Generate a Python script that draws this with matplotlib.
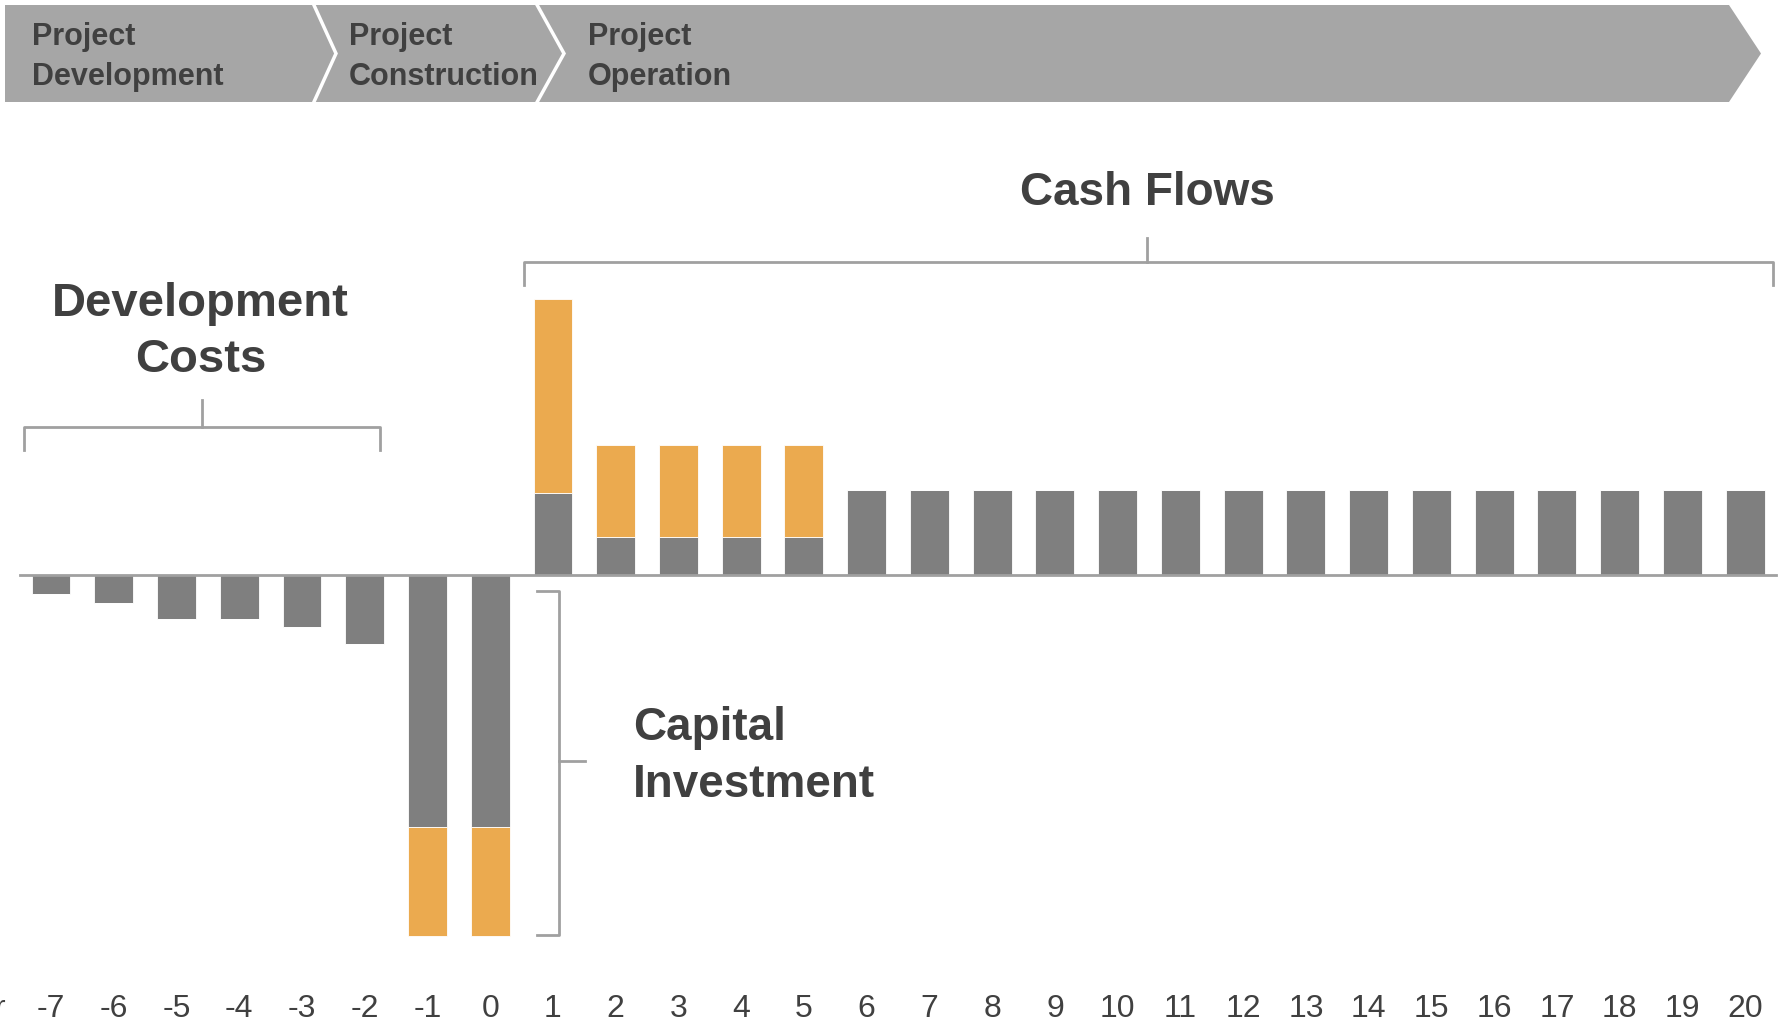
import matplotlib
matplotlib.use("Agg")
import numpy as np
from matplotlib import pyplot as plt
from matplotlib.patches import Polygon

plt.rcParams['font.family'] = ['Liberation Sans', 'DejaVu Sans']

# project years and cash flow pieces (arbitrary units)
years = list(range(-7, 21))
base_vals = [-2.3, -3.3, -5.2, -5.2, -6.1, -8.1, -29.6, -29.6,
             9.6, 4.5, 4.5, 4.5, 4.5] + [10.0] * 15
extra_vals = [0, 0, 0, 0, 0, 0, -12.9, -12.9,
              22.9, 10.8, 10.8, 10.8, 10.8] + [0] * 15
year_labels = [str(y) for y in years]
phase_names = ["Project\nDevelopment", "Project\nConstruction", "Project\nOperation"]

GRAY = '#7f7f7f'
ORANGE = '#ebaa4f'
TXT = '#404040'
LINE = '#a0a0a0'

W, H = 1779, 1024
fig = plt.figure(figsize=(W / 100, H / 100), dpi=100)

# main chart axes spanning the figure
ax = fig.add_axes([0, 0, 1, 1])
ax.set_xlim(-7.813, 20.54)
ax.set_ylim(-52.8, 67.6)
ax.axis('off')

x = np.array(years)
ax.bar(x, base_vals, width=0.62, color=GRAY, edgecolor='white', linewidth=0.6, zorder=2)
ax.bar(x, extra_vals, width=0.62, bottom=base_vals, color=ORANGE,
       edgecolor='white', linewidth=0.6, zorder=2)
ax.plot([-7.49, 20.5], [0, 0], color=LINE, lw=2, zorder=3)

for xi, lab in zip(years, year_labels):
    ax.text(xi, -51.0, lab, ha='center', va='center', fontsize=23, color=TXT)
ax.text(-7.72, -51.0, "Year", ha='right', va='center', fontsize=23, color=TXT)

# brackets
blw = 2
ax.plot([-7.43, -7.43, -1.76, -1.76], [14.7, 17.4, 17.4, 14.7], color=LINE, lw=blw)
ax.plot([-4.6, -4.6], [17.4, 20.6], color=LINE, lw=blw)
ax.plot([0.54, 0.54, 20.45, 20.45], [34.1, 36.8, 36.8, 34.1], color=LINE, lw=blw)
ax.plot([10.47, 10.47], [36.8, 39.6], color=LINE, lw=blw)
ax.plot([0.75, 1.1, 1.1, 0.75], [-1.9, -1.9, -42.3, -42.3], color=LINE, lw=blw)
ax.plot([1.1, 1.51], [-21.9, -21.9], color=LINE, lw=blw)

ax.text(-4.62, 28.6, "Development\nCosts", ha='center', va='center', fontsize=34,
        fontweight='bold', color=TXT, linespacing=1.36)
ax.text(10.47, 44.9, "Cash Flows", ha='center', va='center', fontsize=33,
        fontweight='bold', color=TXT)
ax.text(2.28, -21.3, "Capital\nInvestment", ha='left', va='center', fontsize=33,
        fontweight='bold', color=TXT, linespacing=1.38)

# phase banner on top, in pixel coordinates
bx = fig.add_axes([0, 0, 1, 1], facecolor='none')
bx.set_xlim(0, W)
bx.set_ylim(H, 0)
bx.axis('off')
bx.add_patch(Polygon([(5, 5), (1729, 5), (1761, 53.5), (1729, 102), (5, 102)],
                     closed=True, facecolor='#a6a6a6', edgecolor='none'))
for sx, tip in [(313, 336), (536, 564)]:
    bx.plot([sx, tip, sx], [3, 53.5, 104], color='white', lw=2.5, solid_joinstyle='miter')
for tx, name in zip([32, 349, 588], phase_names):
    bx.text(tx, 57, name, ha='left', va='center', fontsize=22, fontweight='bold',
            color=TXT, linespacing=1.42)

fig.savefig("out.png", dpi=100)
